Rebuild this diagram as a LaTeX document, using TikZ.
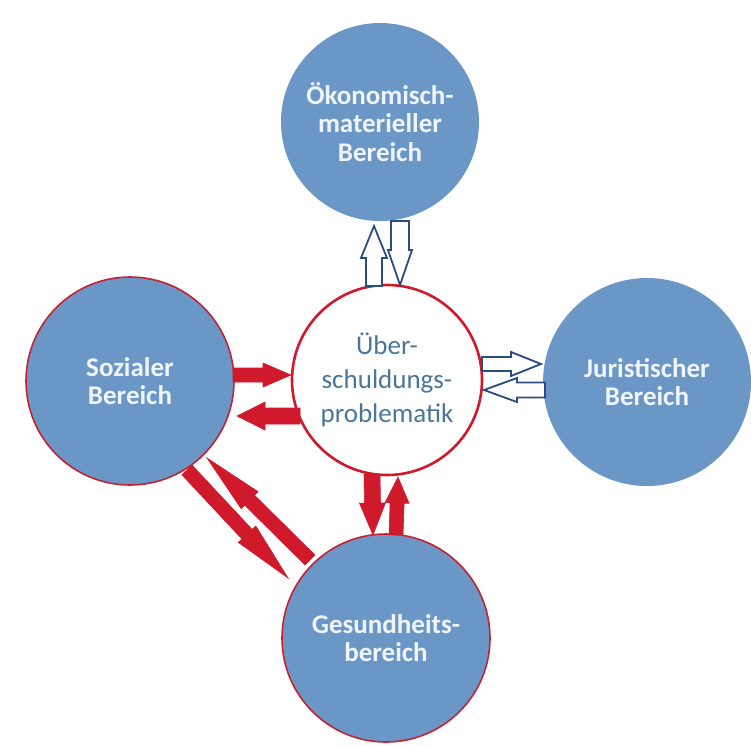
\documentclass[tikz,border=0pt]{standalone}
\usepackage{fontspec}
\setmainfont{Carlito}
\usetikzlibrary{calc}
\definecolor{circblue}{RGB}{107,151,199}
\definecolor{circtext}{RGB}{240,245,252}
\definecolor{midtext}{RGB}{74,118,156}
\definecolor{arrred}{RGB}{208,26,44}
\definecolor{edgered}{RGB}{196,34,52}
\definecolor{navy}{RGB}{43,76,126}
\tikzset{
  bluecirc/.style={circle, fill=circblue, inner sep=0pt, minimum size=208pt,
    align=center, text=circtext, font=\bfseries\fontsize{27}{28.5}\selectfont},
  redrim/.style={draw=edgered, line width=1.6pt},
  midcirc/.style={circle, fill=white, draw=arrred, line width=2.6pt, inner sep=0pt,
    minimum size=190pt, align=center, text=midtext, font=\fontsize{27}{34}\selectfont},
  redarrow/.style={fill=arrred, draw=arrred, line width=0.6pt, line join=miter},
  openarrow/.style={fill=white, draw=navy, line width=1.8pt, line join=miter}
}
% #1 style, #2 start, #3 tip, #4 shaft half width, #5 head half width, #6 head length, #7 id
\newcommand\blockarrow[7]{%
  \coordinate (#7h) at ($(#3)!#6!(#2)$);
  \draw[#1] ($(#2)!#4!90:(#3)$) -- ($(#7h)!#4!90:(#3)$) -- ($(#7h)!#5!90:(#3)$)
    -- (#3) -- ($(#7h)!#5!-90:(#3)$) -- ($(#7h)!#4!-90:(#3)$)
    -- ($(#2)!#4!-90:(#3)$) -- cycle;}
\begin{document}
\begin{tikzpicture}[x=1pt,y=-1pt]
\useasboundingbox[fill=white] (0,0) rectangle (751,745);
% circles
\node[bluecirc, minimum size=198pt] (oek) at (380,122) {Ökonomisch-\\materieller\\Bereich};
\node[bluecirc, redrim] (soz) at (130,381) {Sozialer\\Bereich};
\node[bluecirc] (jur) at (647,382) {Juristischer\\Bereich};
\node[bluecirc, redrim] (ges) at (386,638) {Gesundheits-\\bereich};
\node[midcirc] (mid) at (387,380) {Über-\\schuldungs-\\problematik};
% arrow end points
\coordinate (a1s) at (374,286); \coordinate (a1t) at (374,226);
\coordinate (a2s) at (400,221); \coordinate (a2t) at (400,285);
\coordinate (a3s) at (482,364); \coordinate (a3t) at (541,364);
\coordinate (a4s) at (545,390); \coordinate (a4t) at (484,390);
\coordinate (a5s) at (233,375); \coordinate (a5t) at (291,375);
\coordinate (a6s) at (300,416); \coordinate (a6t) at (237,416);
\coordinate (a7s) at (187,470); \coordinate (a7t) at (288,578);
\coordinate (a8s) at (310,560); \coordinate (a8t) at (207,458);
\coordinate (a9s) at (372,474); \coordinate (a9t) at (373,535);
\coordinate (a10s) at (396,535); \coordinate (a10t) at (398,477);
% open arrows (navy outline)
\blockarrow{openarrow}{a1s}{a1t}{8pt}{13pt}{32pt}{x1}
\blockarrow{openarrow}{a2s}{a2t}{9pt}{12pt}{35pt}{x2}
\blockarrow{openarrow}{a3s}{a3t}{7pt}{12pt}{30pt}{x3}
\blockarrow{openarrow}{a4s}{a4t}{7.5pt}{12pt}{33pt}{x4}
% red arrows
\blockarrow{redarrow}{a5s}{a5t}{7pt}{12pt}{28pt}{x5}
\blockarrow{redarrow}{a6s}{a6t}{8pt}{14pt}{28pt}{x6}
\blockarrow{redarrow}{a7s}{a7t}{7pt}{12pt}{60pt}{x7}
\blockarrow{redarrow}{a8s}{a8t}{7pt}{12pt}{60pt}{x8}
\blockarrow{redarrow}{a9s}{a9t}{8pt}{13pt}{32pt}{x9}
\blockarrow{redarrow}{a10s}{a10t}{7pt}{12pt}{26pt}{x10}
\end{tikzpicture}
\end{document}
